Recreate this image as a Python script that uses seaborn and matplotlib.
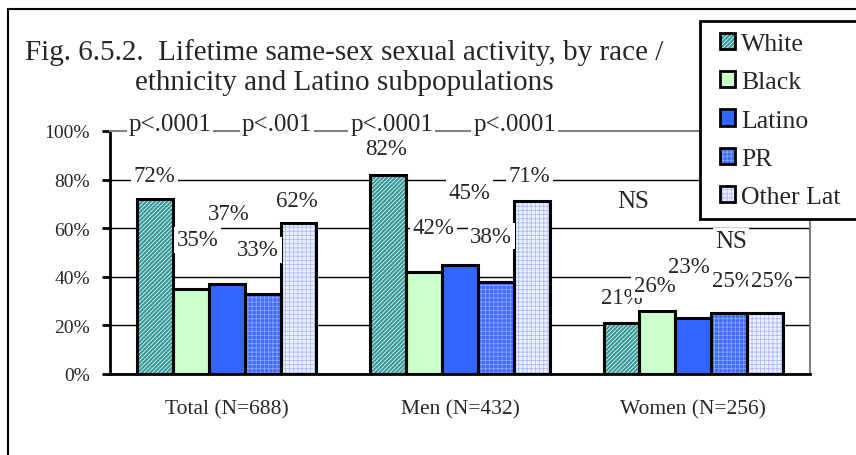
import matplotlib
matplotlib.use("Agg")
import matplotlib.pyplot as plt
from matplotlib.patches import Rectangle, Patch
from matplotlib.lines import Line2D
from matplotlib.legend_handler import HandlerTuple
import pandas as pd
import seaborn as sns

# ---- data -------------------------------------------------------------
groups = ["Total (N=688)", "Men (N=432)", "Women (N=256)"]
races = ["White", "Black", "Latino", "PR", "Other Lat"]
white = [72, 82, 21]
black = [35, 42, 26]
latino = [37, 45, 23]
pr = [33, 38, 25]
other_lat = [62, 71, 25]
p_labels = ["p<.0001", "p<.001", "p<.0001", "p<.0001", "NS", "NS"]
y_ticks = [0, 20, 40, 60, 80, 100]

title_1 = "Fig. 6.5.2.  Lifetime same-sex sexual activity, by race /"
title_2 = "ethnicity and Latino subpopulations"

# ---- styling ----------------------------------------------------------
face = {"White": "#339999", "Black": "#CCFFCC", "Latino": "#3366FF",
        "PR": "#3d6bff", "Other Lat": "#eef2ff"}
hatch = {"White": "////////", "Black": None, "Latino": None,
         "PR": "++++", "Other Lat": "++++"}
hatch_col = {"White": "#e8f4f4", "Black": "#CCFFCC", "Latino": "#3366FF",
             "PR": "#8aa3ff", "Other Lat": "#a8baff"}

# label placement (dx in category units, dy in % above the bar top)
label_shift = {
    "White":     [(0.00, 7.4), (-0.01, 8.7), (0.00, 8.4)],
    "Black":     [(0.03, 17.9), (0.04, 16.2), (-0.01, 8.3)],
    "Latino":    [(0.01, 26.6), (0.04, 27.6), (-0.02, 18.8)],
    "PR":        [(-0.02, 15.8), (-0.02, 16.5), (0.014, 11.4)],
    "Other Lat": [(-0.007, 7.3), (-0.01, 8.6), (0.027, 11.4)],
}
p_xy = [(-0.243, 100.4), (0.215, 100.4), (0.708, 100.4), (1.234, 100.4),
        (1.74, 68.7), (2.16, 52.3)]

sns.set_style("white")
plt.rcParams["font.family"] = ["Liberation Serif", "DejaVu Serif"]
plt.rcParams["hatch.linewidth"] = 0.6

values = {"White": white, "Black": black, "Latino": latino,
          "PR": pr, "Other Lat": other_lat}
df = pd.DataFrame([
    {"group": g, "race": r, "value": values[r][i]}
    for r in races for i, g in enumerate(groups)
])

W, H = 856, 456
fig = plt.figure(figsize=(W / 100, H / 100), dpi=100)
ax = fig.add_axes([110 / W, 1 - 375 / H, 700 / W, 243 / H])

sns.barplot(data=df, x="group", y="value", hue="race", order=groups,
            hue_order=races, palette=[face[r] for r in races],
            saturation=1, width=0.77, legend=False, ax=ax, zorder=2)

# fill + hatch on the bar itself, black outline on top
for race, cont in zip(races, ax.containers):
    for i, p in enumerate(cont.patches):
        p.set_facecolor(face[race])
        p.set_edgecolor(hatch_col[race])
        p.set_linewidth(0)
        if hatch[race]:
            p.set_hatch(hatch[race])
        ax.add_patch(Rectangle(p.get_xy(), p.get_width(), p.get_height(),
                               fill=False, edgecolor="black", linewidth=2.2,
                               zorder=2.5))
        v = values[race][i]
        dx, dy = label_shift[race][i]
        ax.text(p.get_x() + p.get_width() / 2 + dx, v + dy, f"{v}%",
                ha="center", va="baseline", fontsize=16.5, zorder=6,
                bbox=dict(facecolor="white", edgecolor="none", pad=2))

for txt, (x, y) in zip(p_labels, p_xy):
    ax.text(x, y, txt, ha="center", va="baseline", fontsize=18, zorder=6,
            bbox=dict(facecolor="white", edgecolor="none", pad=1.5))

# axes
ax.set_xlim(-0.5, 2.5)
ax.set_ylim(0, 100)
ax.set_yticks(y_ticks)
ax.set_yticklabels([f"{t}%" for t in y_ticks], fontsize=14)
ax.set_xlabel("")
ax.set_ylabel("")
ax.set_xticks(range(len(groups)))
ax.set_xticklabels(groups, fontsize=15.5)
ax.set_xticks([-0.5, 0.5, 1.5, 2.5], minor=True)
ax.tick_params(axis="x", which="major", length=0, pad=18)
ax.tick_params(axis="x", which="minor", length=6, width=2, direction="out",
               color="black")
ax.tick_params(axis="y", length=6, width=2, direction="out", color="black",
               pad=8.5, left=True)
ax.yaxis.grid(True, color="black", linewidth=1.0)
ax.set_axisbelow(True)
ax.yaxis.get_gridlines()[-1].set_visible(False)
for s in ("left", "bottom"):
    ax.spines[s].set_color("black")
    ax.spines[s].set_linewidth(2)
for s in ("top", "right"):
    ax.spines[s].set_color("#808080")
    ax.spines[s].set_linewidth(1.5)

# title
fig.text(344 / W, 1 - 60 / H, title_1, ha="center", va="baseline",
         fontsize=21)
fig.text(344 / W, 1 - 90 / H, title_2, ha="center", va="baseline",
         fontsize=21)

# legend box (open on the right: it runs past the edge of the chart area)
fig.add_artist(Rectangle((700 / W, 1 - 220 / H), 1 - 700 / W, 198 / H,
                         transform=fig.transFigure, facecolor="white",
                         edgecolor="none", linewidth=0, zorder=9))
fig.add_artist(Line2D([1.0, 700 / W, 700 / W, 1.0],
                      [1 - 22 / H, 1 - 22 / H, 1 - 220 / H, 1 - 220 / H],
                      transform=fig.transFigure, color="black", lw=2,
                      solid_joinstyle="miter", solid_capstyle="butt",
                      zorder=9.5))
handles = []
for r in races:
    fill = Patch(facecolor=face[r], edgecolor=hatch_col[r], linewidth=0,
                 hatch=hatch[r])
    edge = Patch(facecolor="none", edgecolor="black", linewidth=2)
    handles.append((fill, edge))
leg = fig.legend(handles, races, loc="upper left",
                 bbox_to_anchor=(720 / W, 1 - 33.5 / H),
                 bbox_transform=fig.transFigure, fontsize=18.5,
                 handler_map={tuple: HandlerTuple(ndivide=1, pad=0)},
                 handlelength=0.6, handleheight=0.6, handletextpad=0.22,
                 labelspacing=0.63, borderpad=0, borderaxespad=0,
                 frameon=False)
leg.set_zorder(10)

# outer chart frame
fig.add_artist(Line2D([8 / W, 1], [1 - 10 / H, 1 - 10 / H],
                      transform=fig.transFigure, color="black", lw=1.5))
fig.add_artist(Line2D([8 / W, 8 / W], [0, 1 - 10 / H],
                      transform=fig.transFigure, color="black", lw=1.5))

fig.savefig("out.png", dpi=100)
